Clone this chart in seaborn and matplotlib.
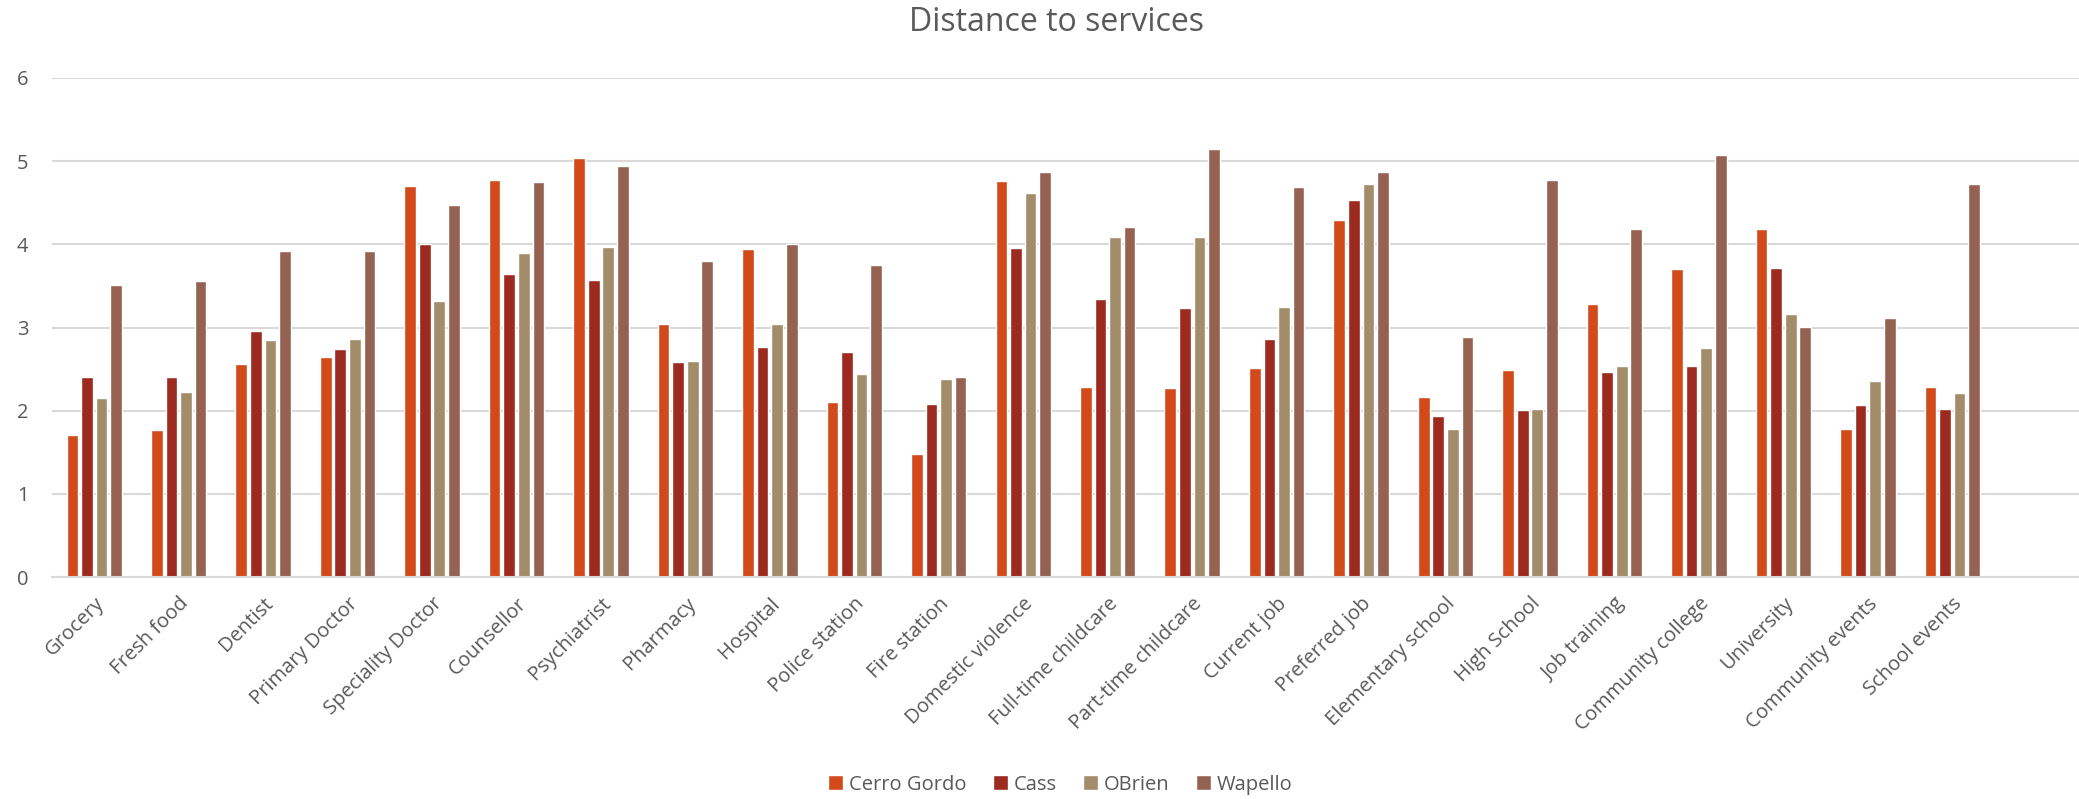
import pandas as pd
import matplotlib.pyplot as plt
import seaborn as sns

sns.set_theme(style="white")
plt.rcParams['font.family'] = ['Open Sans', 'DejaVu Sans']

categories = ["Grocery", "Fresh food", "Dentist", "Primary Doctor", "Speciality Doctor",
              "Counsellor", "Psychiatrist", "Pharmacy", "Hospital", "Police station",
              "Fire station", "Domestic violence", "Full-time childcare", "Part-time childcare",
              "Current job", "Preferred job", "Elementary school", "High School",
              "Job training", "Community college", "University", "Community events",
              "School events"]

cerro_gordo = [1.71, 1.77, 2.56, 2.64, 4.70, 4.77, 5.04, 3.04, 3.94, 2.10, 1.48, 4.76,
               2.28, 2.27, 2.51, 4.29, 2.17, 2.49, 3.28, 3.70, 4.18, 1.78, 2.28]
cass = [2.40, 2.41, 2.96, 2.74, 4.01, 3.64, 3.57, 2.58, 2.77, 2.71, 2.08, 3.95,
        3.34, 3.23, 2.86, 4.53, 1.94, 2.01, 2.46, 2.54, 3.72, 2.07, 2.02]
obrien = [2.15, 2.22, 2.85, 2.86, 3.32, 3.90, 3.97, 2.60, 3.04, 2.44, 2.38, 4.62,
          4.09, 4.09, 3.25, 4.73, 1.78, 2.02, 2.54, 2.75, 3.16, 2.36, 2.21]
wapello = [3.51, 3.56, 3.92, 3.92, 4.47, 4.75, 4.94, 3.80, 4.01, 3.75, 2.41, 4.87,
           4.21, 5.15, 4.69, 4.87, 2.88, 4.77, 4.19, 5.07, 3.01, 3.11, 4.73]

series_names = ["Cerro Gordo", "Cass", "OBrien", "Wapello"]
colors = ["#D24A19", "#9C2A1F", "#A38C69", "#956251"]

df = pd.DataFrame({"category": categories, "Cerro Gordo": cerro_gordo, "Cass": cass,
                   "OBrien": obrien, "Wapello": wapello})
long_df = df.melt(id_vars="category", var_name="county", value_name="distance")

fig = plt.figure(figsize=(20.79, 7.99), dpi=100)
ax = fig.add_axes([0.025, 0.2778, 0.975, 0.6246])

sns.barplot(data=long_df, x="category", y="distance", hue="county", hue_order=series_names,
            palette=colors, width=0.69, gap=0.2, saturation=1, ax=ax, legend=True)

ax.set_ylim(0, 6)
ax.set_xlim(-0.5, 23.5)
ax.set_yticks(range(0, 7))
ax.yaxis.grid(True, color="#D9D9D9", linewidth=1.5)
ax.set_axisbelow(True)
for s in ["top", "right", "left"]:
    ax.spines[s].set_visible(False)
ax.spines["bottom"].set_color("#D9D9D9")
ax.spines["bottom"].set_linewidth(1.5)
ax.set_xlabel("")
ax.set_ylabel("")
ax.tick_params(axis="both", length=0, labelsize=14.5, labelcolor="#595959")
ax.tick_params(axis="y", pad=17)
ax.tick_params(axis="x", pad=12)
ax.set_xticks(range(len(categories)))
ax.set_xticklabels(categories, rotation=45, ha="right", rotation_mode="anchor")

fig.suptitle("Distance to services", x=0.508, y=0.992, fontsize=23, color="#595959")

# legend at the bottom of the figure
handles, labels = ax.get_legend_handles_labels()
ax.get_legend().remove()
fig.legend(handles, labels, loc="center", bbox_to_anchor=(0.51, 0.018), ncol=4, frameon=False,
           fontsize=14.5, labelcolor="#595959", handlelength=0.75, handleheight=0.75,
           handletextpad=0.3, columnspacing=1.3)

plt.savefig("out.png", dpi=100)
